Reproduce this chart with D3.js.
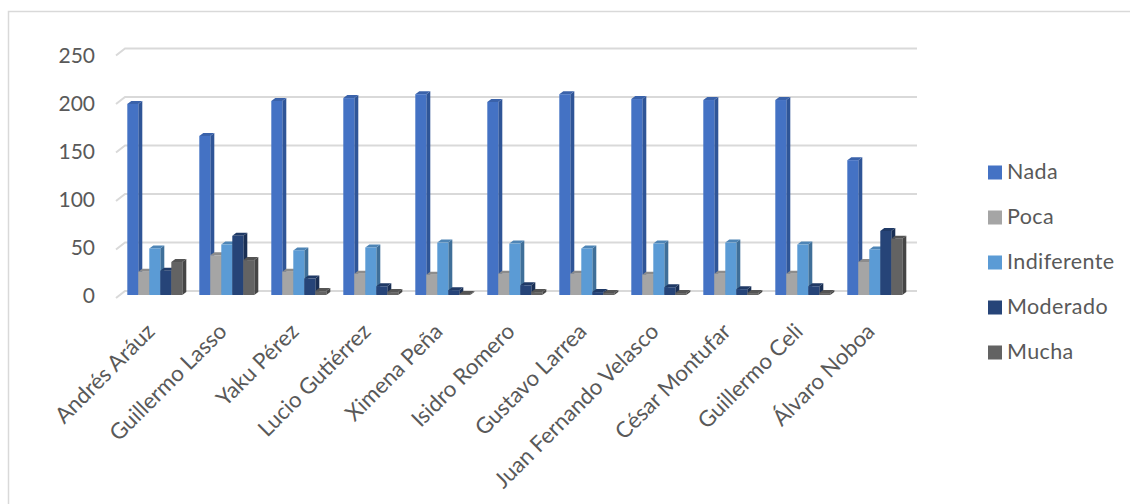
<!DOCTYPE html>
<html><head><meta charset="utf-8">
<style>html,body{margin:0;padding:0;background:#fff}svg{display:block}text{font-family:Lato,"Open Sans",sans-serif;fill:#595959}</style>
<script src="https://cdn.jsdelivr.net/npm/d3@7"></script></head><body><div id="c"></div>
<script>
const categories=["Andrés Aráuz","Guillermo Lasso","Yaku Pérez","Lucio Gutiérrez","Ximena Peña","Isidro Romero","Gustavo Larrea","Juan Fernando Velasco","César Montufar","Guillermo Celi","Álvaro Noboa"];
const seriesNames=["Nada","Poca","Indiferente","Moderado","Mucha"];
const nada=[197,164,200,203,207,199,207,202,201,201,139];
const poca=[24,41,24,22,21,22,22,21,22,22,34];
const indiferente=[48,52,46,49,54,53,48,53,54,52,47];
const moderado=[25,61,17,9,5,10,3,8,6,9,66];
const mucha=[34,36,4,3,1,3,2,2,2,2,58];
const yTicks=[0,50,100,150,200,250];
const frontColors=["#4472C4","#A5A5A5","#5B9BD5","#264478","#636363"];
const sideColors=["#2F5597","#737373","#3F6F99","#1A2F54","#454545"];
const topColors=["#3A62AA","#8C8C8C","#4E85B6","#203A66","#545454"];
const series=[nada,poca,indiferente,moderado,mucha];
const W=1130,H=504,dx=4,dy=3;
const svg=d3.select("#c").append("svg").attr("width",W).attr("height",H);
svg.append("path").attr("d","M8.5,504V11.5H1130").attr("fill","none").attr("stroke","#D9D9D9").attr("stroke-width",1.5);
const x=d3.scaleBand().domain(categories).range([109.3,901.3]);
const sub=d3.scaleBand().domain(seriesNames).range([18,73]);
const y=d3.scaleLinear().domain([0,250]).range([295,52.5]);
const yLabel=d3.scaleLinear().domain([0,250]).range([295,55]);
const gridBackDy=-4,floorFrontDy=3;
const g=svg.append("g").attr("fill","none").attr("stroke","#D9D9D9").attr("stroke-width",2);
yTicks.forEach(t=>{
  const yb=y(t)+gridBackDy, yf=y(t)+floorFrontDy;
  g.append("path").attr("d",`M116,${yf}L125,${yb}L917,${yb}`);
});
const bars=svg.append("g");
categories.forEach((c,i)=>{
  const gx=x(c);
  seriesNames.forEach((s,j)=>{
    const v=series[j][i],l=gx+sub(s),w=sub.bandwidth(),r=l+w,t=y(v),b=y(0);
    bars.append("path").attr("fill",sideColors[j]).attr("d",`M${r},${t}L${r+dx},${t-dy}L${r+dx},${b-dy}L${r},${b}Z`);
    bars.append("path").attr("fill",topColors[j]).attr("d",`M${l},${t}L${l+dx},${t-dy}L${r+dx},${t-dy}L${r},${t}Z`);
    bars.append("rect").attr("x",l).attr("y",t).attr("width",w).attr("height",b-t).attr("fill",frontColors[j]);
  });
});
const ay=svg.append("g").attr("transform","translate(95,0)").call(d3.axisLeft(yLabel).tickValues(yTicks).tickSize(0).tickPadding(0));
ay.select(".domain").remove();
ay.selectAll("text").style("font-size","21px").style("fill","#595959").attr("dy","0.36em");
const ax=svg.append("g").attr("transform","translate(0,325)").call(d3.axisBottom(x).tickSize(0).tickFormat(d=>d));
ax.select(".domain").remove();
ax.selectAll("text").style("font-size","22.2px").style("fill","#595959").attr("text-anchor","end")
  .attr("transform","translate(3,0) rotate(-45)").attr("dy","0.5em").attr("y",0).attr("x",0);
const leg=d3.scaleBand().domain(seriesNames).range([150,375]);
seriesNames.forEach((s,j)=>{
  const cy=leg(s)+leg.bandwidth()/2;
  svg.append("rect").attr("x",988).attr("y",cy-7).attr("width",14).attr("height",14).attr("fill",frontColors[j]);
  svg.append("text").attr("x",1007).attr("y",cy-1).attr("dy","0.35em").style("font-size","21.5px").style("letter-spacing","0.4px").text(s);
});
</script></body></html>
